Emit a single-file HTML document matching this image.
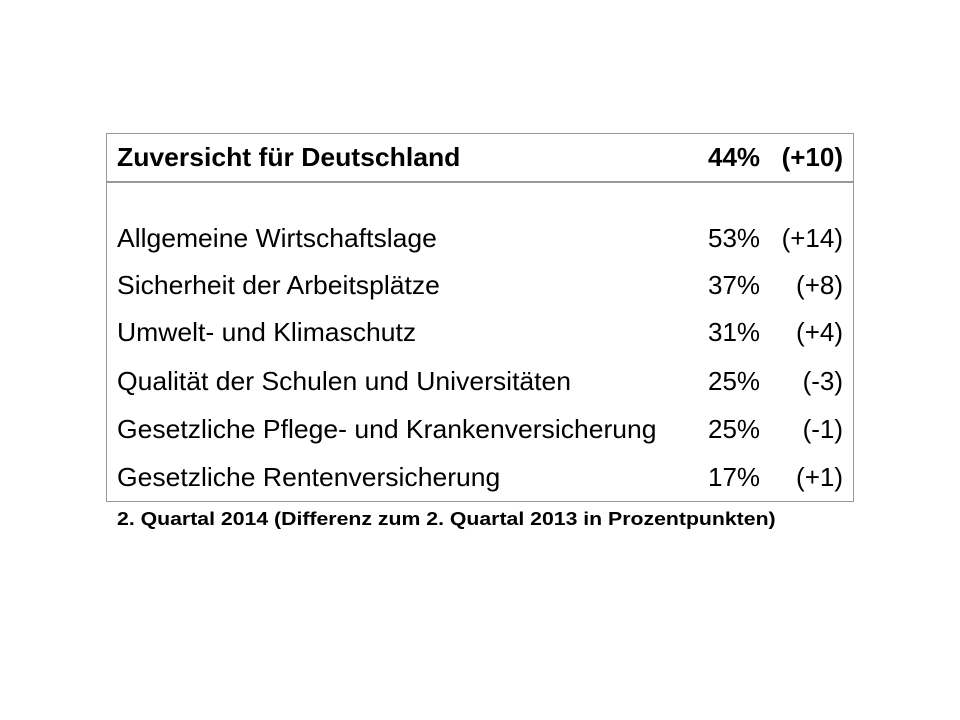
<!DOCTYPE html>
<html><head><meta charset="utf-8"><style>
body{margin:0;width:960px;height:720px;background:#fff;position:relative;font-family:"Liberation Sans",Arial,sans-serif;color:#000;overflow:hidden}
#box{position:absolute;left:106px;top:133px;width:746px;height:367px;border:1px solid #999}
#sep{position:absolute;left:106px;top:181px;width:747px;height:0;border-top:2px solid #999}
.r{position:absolute;left:117px;width:726px;height:30px;line-height:30px;font-size:26px;white-space:nowrap}
.r .l{position:absolute;left:0;transform:scaleX(1.02);transform-origin:left}
.r .p{position:absolute;left:591px}
.r .d{position:absolute;right:0}
.b{font-weight:bold}
#foot{position:absolute;left:117px;top:509px;font-size:18px;font-weight:bold;white-space:nowrap;transform:scaleX(1.18);transform-origin:left}
</style></head><body>
<div id="box"></div>
<div id="sep"></div>
<div class="r b" style="top:142px"><span class="l">Zuversicht für Deutschland</span><span class="p">44%</span><span class="d">(+10)</span></div>
<div class="r" style="top:223px"><span class="l">Allgemeine Wirtschaftslage</span><span class="p">53%</span><span class="d">(+14)</span></div>
<div class="r" style="top:270px"><span class="l">Sicherheit der Arbeitsplätze</span><span class="p">37%</span><span class="d">(+8)</span></div>
<div class="r" style="top:317px"><span class="l">Umwelt- und Klimaschutz</span><span class="p">31%</span><span class="d">(+4)</span></div>
<div class="r" style="top:366px"><span class="l">Qualität der Schulen und Universitäten</span><span class="p">25%</span><span class="d">(-3)</span></div>
<div class="r" style="top:414px"><span class="l">Gesetzliche Pflege- und Krankenversicherung</span><span class="p">25%</span><span class="d">(-1)</span></div>
<div class="r" style="top:462px"><span class="l">Gesetzliche Rentenversicherung</span><span class="p">17%</span><span class="d">(+1)</span></div>
<div id="foot">2. Quartal 2014 (Differenz zum 2. Quartal 2013 in Prozentpunkten)</div>
</body></html>
